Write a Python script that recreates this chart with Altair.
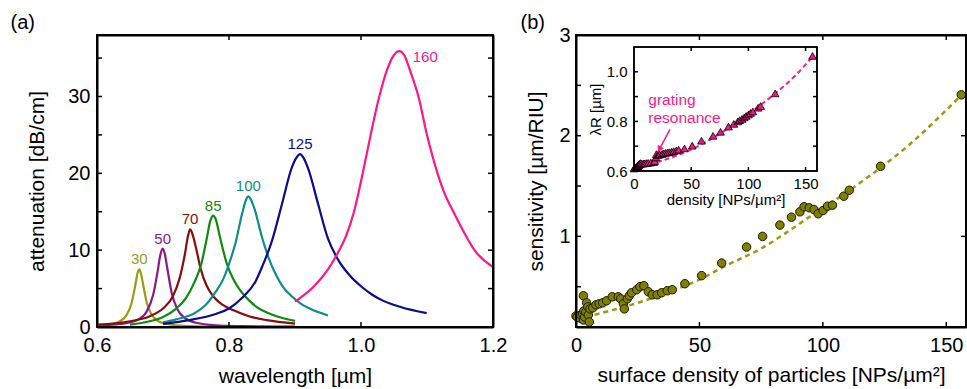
import altair as alt
import pandas as pd

FONT = "Liberation Sans"

# ---------------- panel (a): attenuation spectra ----------------
CURVE_IDS = ["30", "50", "70", "85", "100", "125", "160"]
CURVE_COLORS = ["#9c9c10", "#8c178c", "#8b0c0c", "#0f8a0f", "#0f8c8c", "#0c0c8f", "#ff1687"]

lam30 = [0.600, 0.620, 0.635, 0.645, 0.652, 0.658, 0.662, 0.664, 0.667, 0.671, 0.676, 0.682, 0.690, 0.700, 0.720, 0.750, 0.800, 0.850, 0.900]
att30 = [0.17, 0.35, 0.77, 1.58, 3.0, 5.4, 7.2, 7.5, 6.8, 5.0, 3.0, 1.73, 0.93, 0.51, 0.22, 0.10, 0.05, 0.03, 0.02]

lam50 = [0.600, 0.640, 0.660, 0.675, 0.685, 0.692, 0.696, 0.6995, 0.703, 0.706, 0.713, 0.722, 0.735, 0.750, 0.780, 0.820, 0.900]
att50 = [0.2, 0.42, 0.86, 1.97, 4.15, 7.3, 9.4, 10.2, 9.4, 7.9, 4.5, 2.27, 1.05, 0.55, 0.22, 0.12, 0.05]

lam70 = [0.600, 0.650, 0.680, 0.700, 0.715, 0.725, 0.733, 0.738, 0.741, 0.745, 0.750, 0.757, 0.766, 0.776, 0.790, 0.806, 0.830, 0.857, 0.900]
att70 = [0.3, 0.75, 1.4, 2.4, 4.0, 6.3, 9.4, 11.9, 12.7, 12.0, 10.3, 7.6, 5.4, 4.0, 2.9, 2.2, 1.4, 0.9, 0.45]

lam85 = [0.650, 0.680, 0.700, 0.720, 0.735, 0.748, 0.758, 0.766, 0.772, 0.776, 0.780, 0.786, 0.7965, 0.806, 0.8167, 0.830, 0.842, 0.860, 0.880, 0.900]
att85 = [0.3, 0.75, 1.3, 2.4, 3.8, 5.9, 8.2, 11.4, 13.9, 14.5, 14.0, 11.8, 8.3, 6.3, 4.8, 3.5, 2.6, 1.8, 1.2, 0.8]

lam100 = [0.700, 0.720, 0.748, 0.765, 0.780, 0.790, 0.800, 0.810, 0.820, 0.826, 0.8293, 0.833, 0.840, 0.848, 0.8596, 0.870, 0.882, 0.895, 0.9076, 0.930, 0.950]
att100 = [0.6, 1.0, 1.8, 2.9, 4.6, 6.0, 8.2, 11.0, 14.8, 16.6, 17.0, 16.6, 15.0, 12.3, 9.1, 7.0, 5.2, 4.0, 3.1, 2.1, 1.5]

lam125 = [0.700, 0.740, 0.780, 0.800, 0.820, 0.840, 0.850, 0.8647, 0.880, 0.895, 0.902, 0.9076, 0.913, 0.920, 0.935, 0.950, 0.965, 0.983, 1.000, 1.017, 1.034, 1.060, 1.0995]
att125 = [0.4, 0.9, 1.7, 2.4, 3.8, 5.9, 7.8, 11.1, 15.9, 20.7, 22.0, 22.5, 22.0, 20.6, 16.0, 11.5, 8.8, 6.7, 5.3, 4.2, 3.4, 2.6, 1.8]

lam160 = [0.900, 0.930, 0.950, 0.9646, 0.978, 0.9894, 1.0026, 1.0146, 1.0277, 1.040, 1.050, 1.058, 1.066, 1.075, 1.087, 1.100, 1.116, 1.127, 1.140, 1.155, 1.172, 1.200]
att160 = [3.3, 5.4, 7.5, 9.6, 12.0, 15.0, 20.0, 25.0, 30.0, 33.6, 35.4, 35.9, 35.3, 33.2, 30.0, 25.0, 20.0, 17.3, 15.0, 12.5, 10.0, 7.8]

CURVES = [(lam30, att30), (lam50, att50), (lam70, att70), (lam85, att85),
          (lam100, att100), (lam125, att125), (lam160, att160)]

PEAK_LAM = [0.664, 0.6995, 0.741, 0.776, 0.8293, 0.9076, 1.058]
PEAK_ATT = [7.5, 10.2, 12.7, 14.5, 17.0, 22.5, 35.9]

# ---------------- panel (b): sensitivity vs density ----------------
density = [0.0, 0.5, 1.5, 2.0, 2.7, 3.0, 3.0, 3.2, 3.5, 4.0, 4.3, 4.8, 5.0, 5.4, 5.7, 6.8, 8.1, 9.4,
           10.8, 12.4, 14.7, 17.1, 18.1, 19.2, 19.6, 20.8, 21.6, 22.5, 24.6, 25.9, 27.5, 29.3, 30.9,
           32.9, 34.7, 37.0, 39.0, 44.1, 50.9, 59.0, 69.1, 75.6, 82.6, 87.3, 90.7, 92.4, 94.5, 96.4,
           98.1, 100.1, 101.9, 103.9, 108.5, 110.7, 123.4, 156.1]
sensitivity = [0.21, 0.20, 0.19, 0.22, 0.23, 0.41, 0.17, 0.26, 0.20, 0.25, 0.34, 0.30, 0.22, 0.15, 0.28,
               0.29, 0.32, 0.33, 0.34, 0.36, 0.40, 0.40, 0.38, 0.33, 0.28, 0.38, 0.41, 0.44, 0.47, 0.50,
               0.51, 0.45, 0.42, 0.42, 0.44, 0.46, 0.47, 0.53, 0.61, 0.735, 0.894, 1.0, 1.112, 1.191,
               1.244, 1.294, 1.284, 1.267, 1.225, 1.257, 1.30, 1.31, 1.399, 1.458, 1.696, 2.406]
lambda_r = [0.610, 0.612, 0.614, 0.615, 0.617, 0.620, 0.620, 0.622, 0.622, 0.624, 0.626, 0.628, 0.628,
            0.630, 0.632, 0.630, 0.630, 0.631, 0.632, 0.633, 0.634, 0.636, 0.640, 0.655, 0.668, 0.665,
            0.666, 0.667, 0.669, 0.671, 0.673, 0.675, 0.676, 0.678, 0.680, 0.683, 0.686, 0.691, 0.702,
            0.722, 0.742, 0.758, 0.779, 0.790, 0.800, 0.805, 0.810, 0.816, 0.822, 0.828, 0.834, 0.840,
            0.855, 0.862, 0.913, 1.064]

fit_density = [4, 15, 25, 40, 50, 60, 75, 95, 115, 135, 156]
fit_sensitivity = [0.20, 0.27, 0.34, 0.47, 0.57, 0.70, 0.88, 1.20, 1.53, 1.91, 2.40]

inset_fit_density = [0, 20, 40, 60, 80, 100, 120, 140, 157]
inset_fit_lambda = [0.607, 0.635, 0.667, 0.710, 0.765, 0.830, 0.900, 0.980, 1.065]

annotation_lines = ["grating", "resonance"]
annotation_density = [12.5, 12.5]
annotation_lambda = [0.886, 0.8125]
arrow_density = [31.5, 22.2]
arrow_lambda = [0.768, 0.688]

# axis domains and tick values
A_X_DOMAIN = [0.6, 1.2]
A_Y_DOMAIN = [0, 38]
B_X_DOMAIN = [0, 158]
B_Y_DOMAIN = [0.1, 3]
I_X_DOMAIN = [0, 160]
I_Y_DOMAIN = [0.6, 1.1]

A_X_LABELS = [0.6, 0.8, 1.0, 1.2]
A_Y_LABELS = [0, 10, 20, 30]
A_X_TICKS = [0.8, 1.0]
A_Y_TICKS = [5, 10, 15, 20, 25, 30, 35]
B_X_LABELS = [0, 50, 100, 150]
B_Y_LABELS = [1, 2, 3]
B_X_TICKS = [50, 100, 150]
B_Y_TICKS_LEFT = [0.5, 1, 1.5, 2, 2.5]
B_Y_TICKS_RIGHT = [1, 2]
I_X_LABELS = [0, 50, 100, 150]
I_Y_LABELS = [0.6, 0.8, 1.0]
I_X_TICKS = [50, 100, 150]
I_Y_TICKS = [0.7, 0.8, 0.9, 1.0]

# ---------------- layout (pixels) ----------------
W, H = 869, 292
A_RIGHT = 396
B_LEFT = 479
INS_L, INS_R, INS_T, INS_B = 537, 720, 12, 136
TICK = 5
ITICK = 4

A_X = alt.Scale(domain=A_X_DOMAIN, range=[0, A_RIGHT], nice=False, zero=False)
A_Y = alt.Scale(domain=A_Y_DOMAIN, range=[H, 0], nice=False, zero=False)
B_X = alt.Scale(domain=B_X_DOMAIN, range=[B_LEFT, W], nice=False, zero=False)
B_Y = alt.Scale(domain=B_Y_DOMAIN, range=[H, 0], nice=False, zero=False)
I_X = alt.Scale(domain=I_X_DOMAIN, range=[INS_L, INS_R], nice=False, zero=False)
I_Y = alt.Scale(domain=I_Y_DOMAIN, range=[INS_B, INS_T], nice=False, zero=False)


def axis(orient, values, offset, pad, labels=True, fs=20, tfs=21, dom=False, dw=2, **kw):
    return alt.Axis(orient=orient, values=values, offset=offset, ticks=False, tickSize=0,
                    labels=labels, domain=dom, domainColor="black", domainWidth=dw,
                    grid=False, labelPadding=pad,
                    labelFont=FONT, titleFont=FONT, labelFontSize=fs, titleFontSize=tfs,
                    titleFontWeight="normal", labelColor="black", titleColor="black",
                    labelFlush=False, labelOverlap=False, **kw)


def frame_layer(xd, yd, xs, ys, width):
    poly = pd.DataFrame({
        "x": [xd[0], xd[1], xd[1], xd[0], xd[0]],
        "y": [yd[0], yd[0], yd[1], yd[1], yd[0]],
        "o": [0, 1, 2, 3, 4],
    })
    return alt.Chart(poly).mark_line(color="black", strokeWidth=width, strokeCap="square").encode(
        x=alt.X("x:Q", scale=xs, axis=None),
        y=alt.Y("y:Q", scale=ys, axis=None),
        order="o:Q",
    )


def tick_layer(xd, yd, xs, ys, w_px, h_px, tick_px, bottom, top, left, right):
    lx = tick_px * (xd[1] - xd[0]) / w_px   # tick length in x-data units
    ly = tick_px * (yd[1] - yd[0]) / h_px   # tick length in y-data units
    rows = []
    k = 0
    for v in bottom:
        rows += [{"s": k, "o": 0, "x": v, "y": yd[0]}, {"s": k, "o": 1, "x": v, "y": yd[0] + ly}]
        k += 1
    for v in top:
        rows += [{"s": k, "o": 0, "x": v, "y": yd[1]}, {"s": k, "o": 1, "x": v, "y": yd[1] - ly}]
        k += 1
    for v in left:
        rows += [{"s": k, "o": 0, "x": xd[0], "y": v}, {"s": k, "o": 1, "x": xd[0] + lx, "y": v}]
        k += 1
    for v in right:
        rows += [{"s": k, "o": 0, "x": xd[1], "y": v}, {"s": k, "o": 1, "x": xd[1] - lx, "y": v}]
        k += 1
    return alt.Chart(pd.DataFrame(rows)).mark_line(color="black", strokeWidth=1.5).encode(
        x=alt.X("x:Q", scale=xs, axis=None),
        y=alt.Y("y:Q", scale=ys, axis=None),
        detail="s:N",
        order="o:Q",
    )


# ---------------- panel (a) layers ----------------
rows = []
for cid, (lx, ly) in zip(CURVE_IDS, CURVES):
    for a, b in zip(lx, ly):
        rows.append({"lam": a, "att": b, "curve": cid})
curves_df = pd.DataFrame(rows)
peaks_df = pd.DataFrame({"lam": PEAK_LAM, "att": PEAK_ATT, "curve": CURVE_IDS})
color_a = alt.Color("curve:N", scale=alt.Scale(domain=CURVE_IDS, range=CURVE_COLORS), legend=None)

curves = alt.Chart(curves_df).mark_line(strokeWidth=2.2, interpolate="monotone").encode(
    x=alt.X("lam:Q", scale=A_X,
            axis=axis("bottom", A_X_LABELS, 0, 8, dom=True, format=".1f",
                      titlePadding=10, title="wavelength [µm]")),
    y=alt.Y("att:Q", scale=A_Y,
            axis=axis("left", A_Y_LABELS, 0, 7, dom=True,
                      titlePadding=20, title="attenuation [dB/cm]")),
    color=color_a,
    detail="curve:N",
)

labels_a = alt.Chart(peaks_df[peaks_df["curve"] != "160"]).mark_text(
    font=FONT, fontSize=15, dy=-10, baseline="middle", align="center"
).encode(
    x=alt.X("lam:Q", scale=A_X,
            axis=axis("top", A_X_TICKS, 0, 0, dom=True, labels=False, title="(a)", tfs=20,
                      titleX=-87, titleY=-13, titleAlign="left", titleBaseline="middle",
                      titleAngle=0)),
    y=alt.Y("att:Q", scale=A_Y,
            axis=axis("right", A_Y_TICKS, -(W - A_RIGHT), 0, dom=True, labels=False,
                      title=None)),
    text="curve:N",
    color=color_a,
)

label_160 = alt.Chart(peaks_df[peaks_df["curve"] == "160"]).mark_text(
    font=FONT, fontSize=15, dx=26, dy=6, baseline="middle", align="center"
).encode(
    x=alt.X("lam:Q", scale=A_X, axis=None),
    y=alt.Y("att:Q", scale=A_Y, axis=None),
    text="curve:N",
    color=color_a,
)

frame_a = frame_layer(A_X_DOMAIN, A_Y_DOMAIN, A_X, A_Y, 2)
ticks_a = tick_layer(A_X_DOMAIN, A_Y_DOMAIN, A_X, A_Y, A_RIGHT, H, TICK,
                     A_X_TICKS, A_X_TICKS, A_Y_TICKS, A_Y_TICKS)

# ---------------- panel (b) layers ----------------
pts_df = pd.DataFrame({"d": density, "s": sensitivity, "l": lambda_r})
fit_df = pd.DataFrame({"d": fit_density, "s": fit_sensitivity})
ifit_df = pd.DataFrame({"d": inset_fit_density, "l": inset_fit_lambda})

fit_b = alt.Chart(fit_df).mark_line(color="#9a9a14", strokeWidth=2.5, strokeDash=[5, 4],
                                    interpolate="monotone").encode(
    x=alt.X("d:Q", scale=B_X,
            axis=axis("top", B_X_TICKS, 0, 0, dom=True, labels=False, title="(b)", tfs=20,
                      titleX=B_LEFT - 56, titleY=-13, titleAlign="left", titleBaseline="middle",
                      titleAngle=0)),
    y=alt.Y("s:Q", scale=B_Y,
            axis=axis("right", B_Y_TICKS_RIGHT, 0, 0, dom=True, labels=False, title=None)),
)

points_b = alt.Chart(pts_df).mark_circle(size=72, color="#808000", stroke="#1a1a00",
                                         strokeWidth=1, opacity=1).encode(
    x=alt.X("d:Q", scale=B_X,
            axis=axis("bottom", B_X_LABELS, 0, 8, dom=True, titlePadding=9,
                      title="surface density of particles [NPs/µm²]")),
    y=alt.Y("s:Q", scale=B_Y,
            axis=axis("left", B_Y_LABELS, -B_LEFT, 6, dom=True, format=".0f",
                      titlePadding=12, title="sensitivity [µm/RIU]")),
)

frame_b = frame_layer(B_X_DOMAIN, B_Y_DOMAIN, B_X, B_Y, 2)
ticks_b = tick_layer(B_X_DOMAIN, B_Y_DOMAIN, B_X, B_Y, W - B_LEFT, H, TICK,
                     B_X_TICKS, B_X_TICKS, B_Y_TICKS_LEFT, B_Y_TICKS_RIGHT)

# ---------------- inset ----------------
inset_bg = alt.Chart(pd.DataFrame({"x0": [I_X_DOMAIN[0]], "x1": [I_X_DOMAIN[1]],
                                   "y0": [I_Y_DOMAIN[0]], "y1": [I_Y_DOMAIN[1]]})).mark_rect(
    fill="white", stroke="black", strokeWidth=1.5
).encode(
    x=alt.X("x0:Q", scale=I_X, axis=None), x2="x1:Q",
    y=alt.Y("y0:Q", scale=I_Y, axis=None), y2="y1:Q",
)
frame_i = frame_layer(I_X_DOMAIN, I_Y_DOMAIN, I_X, I_Y, 1.5)
ticks_i = tick_layer(I_X_DOMAIN, I_Y_DOMAIN, I_X, I_Y, INS_R - INS_L, INS_B - INS_T, ITICK,
                     I_X_TICKS, I_X_TICKS, I_Y_TICKS, I_Y_TICKS)

inset_fit = alt.Chart(ifit_df).mark_line(color="#f0248e", strokeWidth=2, strokeDash=[5, 3],
                                         interpolate="monotone").encode(
    x=alt.X("d:Q", scale=I_X, axis=None),
    y=alt.Y("l:Q", scale=I_Y, axis=None),
)

inset_pts = alt.Chart(pts_df).mark_point(shape="triangle-up", filled=True, size=60,
                                         fill="#ec1a84", stroke="black", strokeWidth=0.8,
                                         opacity=1).encode(
    x=alt.X("d:Q", scale=I_X,
            axis=axis("bottom", I_X_LABELS, -(H - INS_B), 5, fs=15, tfs=15, titlePadding=1,
                      title="density [NPs/µm²]")),
    y=alt.Y("l:Q", scale=I_Y,
            axis=axis("left", I_Y_LABELS, -INS_L, 7, fs=15, tfs=15, format=".1f",
                      titlePadding=3, title="λR [µm]")),
)

annot = alt.Chart(pd.DataFrame({"d": annotation_density, "l": annotation_lambda,
                                "t": annotation_lines})).mark_text(
    font=FONT, fontSize=15.5, color="#ff1687", align="left", baseline="middle"
).encode(
    x=alt.X("d:Q", scale=I_X, axis=None),
    y=alt.Y("l:Q", scale=I_Y, axis=None),
    text="t:N",
)

arrow_df = pd.DataFrame({"d": arrow_density, "l": arrow_lambda, "o": [0, 1]})
arrow_line = alt.Chart(arrow_df).mark_line(color="#ff1687", strokeWidth=1.5).encode(
    x=alt.X("d:Q", scale=I_X, axis=None),
    y=alt.Y("l:Q", scale=I_Y, axis=None),
    order="o:Q",
)
arrow_head = alt.Chart(arrow_df[arrow_df["o"] == 1]).mark_point(
    shape="triangle-up", filled=True, size=50, angle=208, color="#ff1687", opacity=1
).encode(
    x=alt.X("d:Q", scale=I_X, axis=None),
    y=alt.Y("l:Q", scale=I_Y, axis=None),
)

chart = alt.layer(
    curves, labels_a, label_160,
    fit_b, points_b,
    inset_bg, inset_fit, inset_pts, annot, arrow_line, arrow_head,
    frame_b, ticks_b, frame_i, ticks_i, frame_a, ticks_a,
).resolve_scale(x="independent", y="independent").properties(
    width=W, height=H,
    padding={"left": 97, "top": 35, "right": 1, "bottom": 62},
    autosize=alt.AutoSizeParams(type="none"),
).configure_view(stroke=None)

chart.save("out.html", embed_options={"renderer": "svg", "actions": False})
